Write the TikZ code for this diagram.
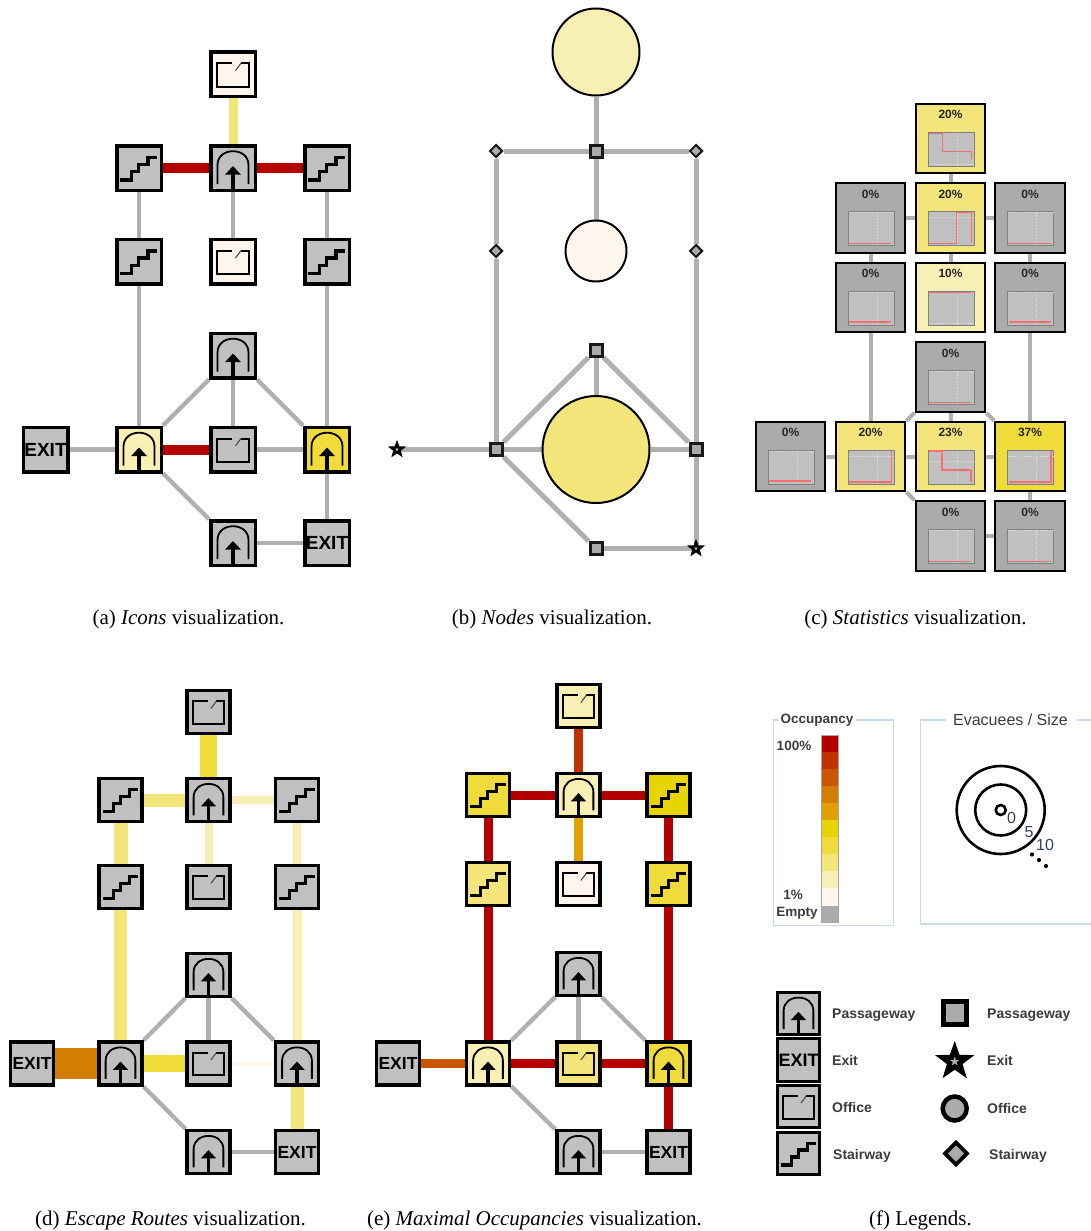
\documentclass[tikz,border=0pt]{standalone}
\usepackage{fontspec}
\setmainfont{Liberation Serif}
\setsansfont{Liberation Sans}
\usetikzlibrary{shapes.geometric}
\pgfdeclarelayer{edges}
\pgfsetlayers{edges,main}
\definecolor{cA}{HTML}{B30000}
\definecolor{cB}{HTML}{C03000}
\definecolor{cC}{HTML}{CB5600}
\definecolor{cD}{HTML}{D27E00}
\definecolor{cE}{HTML}{E0A000}
\definecolor{cF}{HTML}{E8D400}
\definecolor{cG}{HTML}{EFDC3A}
\definecolor{cH}{HTML}{F3E57A}
\definecolor{cI}{HTML}{F8EFB5}
\definecolor{cJ}{HTML}{FEF6EC}
\definecolor{cK}{HTML}{ABABAB}
\definecolor{boxg}{HTML}{C0C0C0}
\definecolor{lkg}{HTML}{B0B0B0}
\definecolor{frm}{HTML}{C5D9F0}
\definecolor{lgt}{HTML}{3C3C3C}
\definecolor{numc}{HTML}{33415E}
\definecolor{redl}{HTML}{FF6E6E}
\definecolor{dashc}{HTML}{DCDCDC}
\tikzset{
  icobox/.style={draw=black,line width=3.5pt,inner sep=0pt,outer sep=auto,minimum size=\sz pt-3.5pt,rectangle},
  lk/.style={line width=4.3pt,draw=lkg},
  lkb/.style={line width=5pt,draw=lkg},
  lkc/.style={line width=4pt,draw=lkg},
  tk/.style n args={2}{line width=#1pt,draw=#2},
  glyph/.style={line width=2pt,draw=black},
  pasico/.pic={
    \draw[glyph,line width=1.8pt] (-15.5,16) -- (-15.5,-3) .. controls (-15.5,-12) and (-8,-16.8) .. (0,-16.8) .. controls (8,-16.8) and (15.5,-12) .. (15.5,-3) -- (15.5,16);
    \draw[line width=3.5pt,draw=black] (0,4) -- (0,23);
    \fill[black] (0,-2) -- (8,6.7) -- (-8,6.7) -- cycle;
  },
  officeico/.pic={
    \draw[glyph] (-1,-11) -- (-15.7,-11) -- (-15.7,12.3) -- (15.7,12.3) -- (15.7,-11) -- (8,-11);
    \draw[line width=1.1pt,draw=black!70] (8,-11) -- (2.5,-3.7);
  },
  stairico/.pic={
    \draw[line width=3.2pt,draw=black] (-18.7,12) -- (-7.7,12) -- (-7.7,3.7) -- (-0.3,3.7) -- (-0.3,-3.7) -- (9,-3.7) -- (9,-10.7) -- (18.3,-10.7);
  },
  nodesq/.style={rectangle,draw=black!90,fill=cK,line width=3pt,minimum size=12pt,inner sep=0pt,outer sep=auto},
  nodedia/.style={diamond,draw=black!90,fill=cK,line width=2pt,minimum size=13pt,inner sep=0pt,outer sep=auto},
  nodestar/.style={star,star points=5,star point ratio=2.4,draw=black,fill=cK,line width=2.5pt,minimum size=12pt,inner sep=0pt,outer sep=0pt},
  nodecirc/.style={circle,draw=black,line width=2pt,inner sep=0pt,outer sep=auto},
  statbox/.style={rectangle,draw=black,line width=2.3pt,minimum size=69.5pt,inner sep=0pt,outer sep=auto},
  chartbox/.style={rectangle,draw=black!50,fill=boxg,line width=1pt,minimum width=46pt,minimum height=34pt,inner sep=0pt},
  pct/.style={font=\sffamily\bfseries\fontsize{12}{14}\selectfont,text=black!85,inner sep=0pt},
  capt/.style={font=\fontsize{21}{24}\selectfont,inner sep=0pt,anchor=base},
  lgd/.style={font=\sffamily\bfseries\fontsize{14}{16}\selectfont,text=lgt,anchor=west,inner sep=0pt},
  framel/.style={draw=frm,line width=1.3pt},
}
\newcommand{\ico}[5]{\node[icobox,fill=#4] (#1) at (#2,#3) {};\pic[scale=\scl] at (#1) {#5};}
\newcommand{\exi}[3]{\node[icobox,fill=boxg,font=\sffamily\bfseries\fontsize{\exs}{\exs}\selectfont] (#1) at (#2,#3) {EXIT};}
% name x y fill pct hdash redpath
\newcommand{\stat}[7]{
  \begin{scope}[shift={(#2,#3)}]
    \node[statbox,fill=#4] (#1) at (0,0) {};
    \node[pct] (#1t) at (0,-24) {#5};
    \node[chartbox] (#1c) at (0.5,10.5) {};
    \begin{scope}[shift={(0.5,10.5)}]
      \draw[dashc,line width=0.6pt,dash pattern=on 1.6pt off 1.6pt] (6,-16.5) -- (6,16.5) (-22.5,#6) -- (22.5,#6);
      \draw[redl,line width=1.3pt,line join=miter] #7;
    \end{scope}
  \end{scope}
}
\begin{document}
\begin{tikzpicture}[x=1pt,y=-1pt]
\path[use as bounding box] (0,0) rectangle (1091,1231);

% ---------- (a)
\def\sz{48}\def\scl{1}\def\exs{19}
\ico{a1}{233}{74.3}{cJ}{officeico}
\ico{a2}{139}{168}{boxg}{stairico}
\ico{a3}{233}{168}{boxg}{pasico}
\ico{a4}{327}{168}{boxg}{stairico}
\ico{a5}{139}{261.7}{boxg}{stairico}
\ico{a6}{233}{261.7}{cJ}{officeico}
\ico{a7}{327}{261.7}{boxg}{stairico}
\ico{a8}{233}{355.5}{boxg}{pasico}
\exi{a9}{45.5}{449.5}
\ico{a10}{139}{449.5}{cI}{pasico}
\ico{a11}{233}{449.5}{boxg}{officeico}
\ico{a12}{327}{449.5}{cG}{pasico}
\ico{a13}{233}{543}{boxg}{pasico}
\exi{a14}{327}{543}
\begin{pgfonlayer}{edges}
\draw[tk={9}{cH}] (a1) -- (a3);
\draw[tk={10}{cA}] (a2) -- (a3);
\draw[tk={10}{cA}] (a3) -- (a4);
\draw[lk] (a2) -- (a5);
\draw[lk] (a3) -- (a6);
\draw[lk] (a4) -- (a7);
\draw[lk] (a5) -- (a10);
\draw[lk] (a7) -- (a12);
\draw[lk] (a8) -- (a10);
\draw[lk] (a8) -- (a11);
\draw[lk] (a8) -- (a12);
\draw[lk] (a9) -- (a10);
\draw[tk={10}{cA}] (a10) -- (a11);
\draw[lk] (a11) -- (a12);
\draw[lk] (a10) -- (a13);
\draw[lk] (a12) -- (a14);
\draw[lk] (a13) -- (a14);
\end{pgfonlayer}
\node[capt] (capa) at (188.5,624.5) {(a) \textit{Icons} visualization.};

% ---------- (b)
\node[nodecirc,fill=cI,minimum size=87pt] (b1) at (596,52) {};
\node[nodesq] (b2) at (596,151) {};
\node[nodedia] (b3) at (496,151) {};
\node[nodedia] (b4) at (696,151) {};
\node[nodecirc,fill=cJ,minimum size=61pt] (b5) at (596,251) {};
\node[nodedia] (b6) at (496,251) {};
\node[nodedia] (b7) at (696,251) {};
\node[nodesq] (b8) at (596,350) {};
\node[nodesq] (b9) at (496,449.5) {};
\node[nodecirc,fill=cH,minimum size=107pt] (b10) at (596,449.5) {};
\node[nodesq] (b11) at (696,449.5) {};
\node[nodestar] (b12) at (397,449.5) {};
\node[nodesq] (b13) at (596,548.5) {};
\node[nodestar] (b14) at (696,548.5) {};
\begin{pgfonlayer}{edges}
\draw[lkb] (b1) -- (b2);
\draw[lkb] (b3) -- (b2);
\draw[lkb] (b2) -- (b4);
\draw[lkb] (b2) -- (b5);
\draw[lkb] (b3) -- (b6);
\draw[lkb] (b4) -- (b7);
\draw[lkb] (b6) -- (b9);
\draw[lkb] (b7) -- (b11);
\draw[lkb] (b8) -- (b10);
\draw[lkb] (b8) -- (b9);
\draw[lkb] (b8) -- (b11);
\draw[lkb] (b12.center) -- (b9);
\draw[lkb] (b9) -- (b10);
\draw[lkb] (b10) -- (b11);
\draw[lkb] (b9) -- (b13);
\draw[lkb] (b11) -- (b14.center);
\draw[lkb] (b13) -- (b14.center);
\end{pgfonlayer}
\node[capt] (capb) at (552,624.5) {(b) \textit{Nodes} visualization.};

% ---------- (c)
\def\flatl{(-22.5,15) -- (20,15)}
\def\flatb{(-22,14) -- (20,14)}
\stat{c1}{950.5}{138.5}{cH}{20\%}{15}{(-22.5,-15.5) -- (-8.8,-15.5) -- (-8.8,2.8) -- (20.2,2.8) -- (20.2,9.5)}
\stat{c2}{870.5}{218}{cK}{0\%}{-16}{\flatl}
\stat{c3}{950.5}{218}{cH}{20\%}{-11}{(-22.5,14.8) -- (5.8,14.8) -- (5.8,-15.8) -- (20.2,-15.8) -- (20.2,14.8)}
\stat{c4}{1030}{218}{cK}{0\%}{-16}{\flatl}
\stat{c5}{870.5}{297.5}{cK}{0\%}{-16}{\flatb}
\stat{c6}{950.5}{297.5}{cI}{10\%}{15}{(-22.5,-15.5) -- (20.2,-15.5)}
\stat{c7}{1030}{297.5}{cK}{0\%}{-16}{\flatb}
\stat{c8}{950.5}{377}{cK}{0\%}{-16}{\flatl}
\stat{c9}{790.5}{456.5}{cK}{0\%}{-16}{\flatb}
\stat{c10}{870.5}{456.5}{cH}{20\%}{-11}{(-22,15) -- (20.5,15) -- (20.5,-16)}
\stat{c11}{950.5}{456.5}{cH}{23\%}{-6}{(-22.5,-16) -- (-9,-16) -- (-9,3) -- (20,3) -- (20,15)}
\stat{c12}{1030}{456.5}{cG}{37\%}{-11}{(-22,15) -- (20.5,15) -- (20.5,-16)}
\stat{c13}{950.5}{536}{cK}{0\%}{-16}{\flatl}
\stat{c14}{1030}{536}{cK}{0\%}{-16}{\flatl}
\begin{pgfonlayer}{edges}
\draw[lkc] (c1) -- (c3);
\draw[lkc] (c2) -- (c3);
\draw[lkc] (c3) -- (c4);
\draw[lkc] (c2) -- (c5);
\draw[lkc] (c3) -- (c6);
\draw[lkc] (c4) -- (c7);
\draw[lkc] (c5) -- (c10);
\draw[lkc] (c7) -- (c12);
\draw[lkc] (c8) -- (c10);
\draw[lkc] (c8) -- (c11);
\draw[lkc] (c8) -- (c12);
\draw[lkc] (c9) -- (c10);
\draw[lkc] (c10) -- (c11);
\draw[lkc] (c11) -- (c12);
\draw[lkc] (c10) -- (c13);
\draw[lkc] (c12) -- (c14);
\draw[lkc] (c13) -- (c14);
\end{pgfonlayer}
\node[capt] (capc) at (915.5,624.5) {(c) \textit{Statistics} visualization.};

% ---------- (d)
\def\sz{46.4}\def\scl{.96}\def\exs{17.5}
\ico{d1}{208.5}{712}{boxg}{officeico}
\ico{d2}{120.5}{800}{boxg}{stairico}
\ico{d3}{208.5}{800}{boxg}{pasico}
\ico{d4}{297}{800}{boxg}{stairico}
\ico{d5}{120.5}{887}{boxg}{stairico}
\ico{d6}{208.5}{887}{boxg}{officeico}
\ico{d7}{297}{887}{boxg}{stairico}
\ico{d8}{208.5}{975}{boxg}{pasico}
\exi{d9}{32}{1063.5}
\ico{d10}{120.5}{1063.5}{boxg}{pasico}
\ico{d11}{208.5}{1063.5}{boxg}{officeico}
\ico{d12}{297}{1063.5}{boxg}{pasico}
\ico{d13}{208.5}{1152}{boxg}{pasico}
\exi{d14}{297}{1152}
\begin{pgfonlayer}{edges}
\draw[tk={17}{cG}] (d1) -- (d3);
\draw[tk={13}{cH}] (d2) -- (d3);
\draw[tk={8}{cI}] (d3) -- (d4);
\draw[tk={14}{cH}] (d2) -- (d5);
\draw[tk={8}{cI}] (d3) -- (d6);
\draw[tk={8}{cI}] (d4) -- (d7);
\draw[tk={13}{cH}] (d5) -- (d10);
\draw[tk={9}{cI}] (d7) -- (d12);
\draw[lk] (d8) -- (d10);
\draw[lk] (d8) -- (d11);
\draw[lk] (d8) -- (d12);
\draw[tk={31}{cD}] (d9) -- (d10);
\draw[tk={17}{cG}] (d10) -- (d11);
\draw[tk={4}{cJ}] (d11) -- (d12);
\draw[lk] (d10) -- (d13);
\draw[tk={13}{cH}] (d12) -- (d14);
\draw[lk] (d13) -- (d14);
\end{pgfonlayer}
\node[capt] (capd) at (170.5,1225.5) {(d) \textit{Escape Routes} visualization.};

% ---------- (e)
\ico{e1}{578.5}{706}{cI}{officeico}
\ico{e2}{488}{795}{cG}{stairico}
\ico{e3}{578.5}{795}{cI}{pasico}
\ico{e4}{668.5}{795}{cF}{stairico}
\ico{e5}{488}{884}{cH}{stairico}
\ico{e6}{578.5}{884}{cJ}{officeico}
\ico{e7}{668.5}{884}{cG}{stairico}
\ico{e8}{578.5}{974}{boxg}{pasico}
\exi{e9}{398}{1063.5}
\ico{e10}{488}{1063.5}{cI}{pasico}
\ico{e11}{578.5}{1063.5}{cH}{officeico}
\ico{e12}{668.5}{1063.5}{cG}{pasico}
\ico{e13}{578.5}{1152}{boxg}{pasico}
\exi{e14}{668.5}{1152}
\begin{pgfonlayer}{edges}
\draw[tk={9}{cB}] (e1) -- (e3);
\draw[tk={9}{cA}] (e2) -- (e3);
\draw[tk={9}{cA}] (e3) -- (e4);
\draw[tk={9}{cA}] (e2) -- (e5);
\draw[tk={9}{cE}] (e3) -- (e6);
\draw[tk={9}{cA}] (e4) -- (e7);
\draw[tk={9}{cA}] (e5) -- (e10);
\draw[tk={9}{cA}] (e7) -- (e12);
\draw[lk] (e8) -- (e10);
\draw[lk] (e8) -- (e11);
\draw[lk] (e8) -- (e12);
\draw[tk={9}{cC}] (e9) -- (e10);
\draw[tk={9}{cA}] (e10) -- (e11);
\draw[tk={9}{cA}] (e11) -- (e12);
\draw[lk] (e10) -- (e13);
\draw[tk={9}{cA}] (e12) -- (e14);
\draw[lk] (e13) -- (e14);
\end{pgfonlayer}
\node[capt] (cape) at (534.5,1225.5) {(e) \textit{Maximal Occupancies} visualization.};

% ---------- (f) frames
\draw[framel] (778,720) -- (773.5,720) -- (773.5,925.5) -- (893.5,925.5) -- (893.5,720) -- (856,720);
\node[font=\sffamily\bfseries\fontsize{13.5}{16}\selectfont,text=lgt,inner sep=0pt] (occt) at (817,720) {Occupancy};
\foreach \c [count=\i from 0] in {cA,cB,cC,cD,cE,cF,cG,cH,cI,cJ,cK}
  \fill[\c] (821,735+17.05*\i) rectangle (838,735+17.05*\i+17.05);
\draw[gray!70,line width=.6pt] (821,735) rectangle (838,922.5);
\node[font=\sffamily\bfseries\fontsize{13.5}{16}\selectfont,text=lgt,inner sep=0pt] (occ1) at (794,746) {100\%};
\node[font=\sffamily\bfseries\fontsize{13.5}{16}\selectfont,text=lgt,inner sep=0pt] (occ2) at (793,895) {1\%};
\node[font=\sffamily\bfseries\fontsize{13.5}{16}\selectfont,text=lgt,inner sep=0pt] (occ3) at (797,913.5) {Empty};

\draw[framel] (946,720) -- (920.5,720) -- (920.5,924) -- (1091,924);
\draw[framel] (1077,720) -- (1091,720);
\node[font=\sffamily\fontsize{16}{18}\selectfont,text=lgt,inner sep=0pt] (evt) at (1010.5,720) {Evacuees / Size};
\draw[black,line width=2.6pt] (1000.7,810) circle (44);
\draw[black,line width=2.6pt] (1000.7,810) circle (25.5);
\draw[black,line width=2.6pt] (1000.7,810) circle (5);
\node[font=\sffamily\fontsize{16}{18}\selectfont,text=numc,inner sep=0pt] (ev0) at (1011.5,818) {0};
\node[font=\sffamily\fontsize{16}{18}\selectfont,text=numc,inner sep=0pt] (ev5) at (1029,832.5) {5};
\node[font=\sffamily\fontsize{16}{18}\selectfont,text=numc,inner sep=0pt] (ev10) at (1045,844.5) {10};
\fill[black] (1032,854.5) circle (2.1) (1039,860) circle (2.1) (1046,866) circle (2.1);

% legend icons
\def\sz{46}\def\exs{18}
\tikzset{icobox/.append style={line width=3pt}}
\ico{f1}{798.5}{1013.7}{boxg}{pasico}
\exi{f2}{798.5}{1060}
\ico{f3}{798.5}{1106.7}{boxg}{officeico}
\ico{f4}{798.5}{1153.5}{boxg}{stairico}
\node[lgd] (f1t) at (832,1015) {Passageway};
\node[lgd] (f2t) at (832,1060.5) {Exit};
\node[lgd] (f3t) at (832,1107.5) {Office};
\node[lgd] (f4t) at (833,1155.5) {Stairway};
\node[rectangle,draw=black,fill=cK,line width=5pt,minimum size=23pt,inner sep=0pt] (f5) at (954.7,1013) {};
\node[star,star points=5,star point ratio=2.5,draw=black,fill=cK,line width=5pt,minimum size=26pt,inner sep=0pt] (f6) at (954.7,1061.5) {};
\node[circle,draw=black,fill=cK,line width=4.5pt,minimum size=24pt,inner sep=0pt] (f7) at (954.7,1108.5) {};
\node[diamond,draw=black,fill=cK,line width=3.8pt,minimum size=23.5pt,inner sep=0pt] (f8) at (956,1153.5) {};
\node[lgd] (f5t) at (987,1015.5) {Passageway};
\node[lgd] (f6t) at (987,1060.5) {Exit};
\node[lgd] (f7t) at (987,1108) {Office};
\node[lgd] (f8t) at (989,1155.5) {Stairway};
\node[capt] (capf) at (920.5,1225.5) {(f) Legends.};
\end{tikzpicture}
\end{document}
